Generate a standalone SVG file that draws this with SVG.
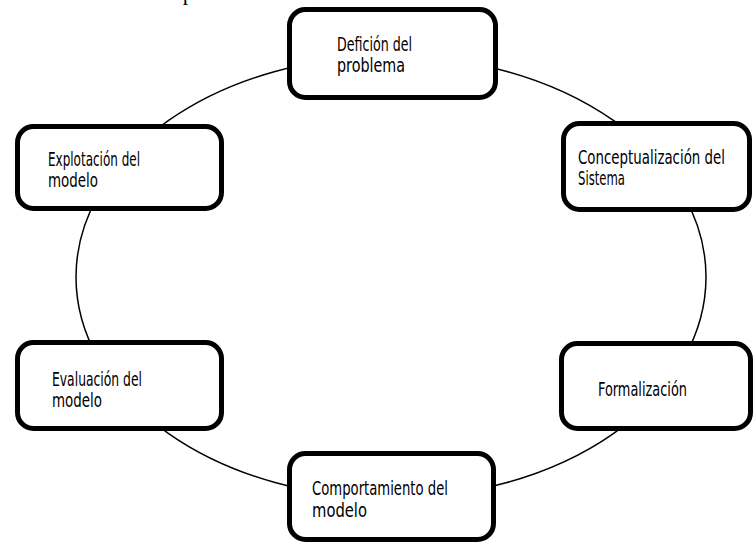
<svg xmlns="http://www.w3.org/2000/svg" width="755" height="544" viewBox="0 0 755 544">
<style>
.box{fill:#fff;stroke:#000;stroke-width:5}
.conn{fill:none;stroke:#000;stroke-width:1.5}
.lbl{font-family:"DejaVu Sans",sans-serif;font-stretch:condensed;font-size:19.5px;fill:#000}
.cap{font-family:"Liberation Serif",serif;font-size:22px;fill:#000}
</style>
<rect width="755" height="544" fill="#fff"/>
<text class="cap" x="-14" y="0">Ilustración 1. Proceso para el desarrollo del modelo de la dinámica de sistemas</text>
<g id="connectors">
<ellipse class="conn" cx="391" cy="277" rx="315" ry="221"/>
</g>
<g id="n1">
<rect class="box" x="289.5" y="9.5" width="206" height="88" rx="16"/>
<text class="lbl" x="337" y="51" textLength="75" lengthAdjust="spacingAndGlyphs">Defición del</text>
<text class="lbl" x="337" y="72" textLength="68" lengthAdjust="spacingAndGlyphs">problema</text>
</g>
<g id="n2">
<rect class="box" x="563.5" y="123.5" width="186" height="86" rx="16"/>
<text class="lbl" x="578" y="164" textLength="147" lengthAdjust="spacingAndGlyphs">Conceptualización del</text>
<text class="lbl" x="578" y="185" textLength="47" lengthAdjust="spacingAndGlyphs">Sistema</text>
</g>
<g id="n3">
<rect class="box" x="561.5" y="343.5" width="189" height="85" rx="16"/>
<text class="lbl" x="598" y="396" textLength="89" lengthAdjust="spacingAndGlyphs">Formalización</text>
</g>
<g id="n4">
<rect class="box" x="289.5" y="453.5" width="204" height="86" rx="16"/>
<text class="lbl" x="312" y="495" textLength="136" lengthAdjust="spacingAndGlyphs">Comportamiento del</text>
<text class="lbl" x="312" y="517" textLength="55" lengthAdjust="spacingAndGlyphs">modelo</text>
</g>
<g id="n5">
<rect class="box" x="17.5" y="342.5" width="204" height="86" rx="16"/>
<text class="lbl" x="52" y="386" textLength="90" lengthAdjust="spacingAndGlyphs">Evaluación del</text>
<text class="lbl" x="52" y="407" textLength="50" lengthAdjust="spacingAndGlyphs">modelo</text>
</g>
<g id="n6">
<rect class="box" x="17.5" y="126.5" width="204" height="82" rx="16"/>
<text class="lbl" x="48" y="166" textLength="92" lengthAdjust="spacingAndGlyphs">Explotación del</text>
<text class="lbl" x="48" y="187" textLength="50" lengthAdjust="spacingAndGlyphs">modelo</text>
</g>
</svg>
